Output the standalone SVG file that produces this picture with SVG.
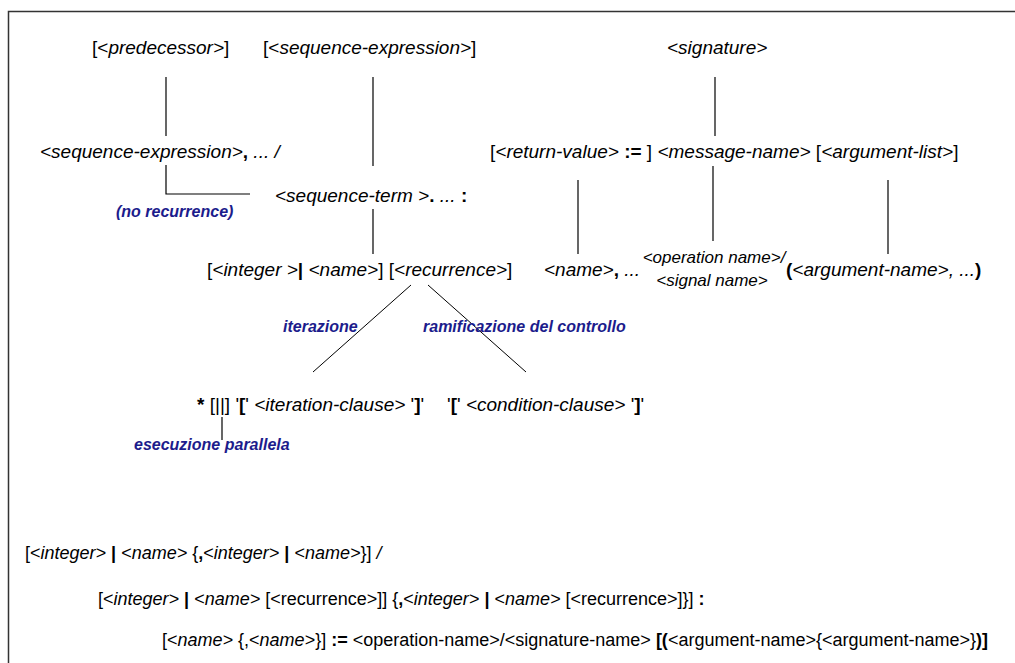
<svg xmlns="http://www.w3.org/2000/svg" width="1015" height="663" viewBox="0 0 1015 663">
  <style>
    text { font-family: "Liberation Sans", Arial, sans-serif; font-size: 19px; fill: #000; }
    .i { font-style: italic; }
    .b { font-weight: bold; }
    .note { font-size: 16px; font-weight: bold; font-style: italic; fill: #1c1c8c; }
    .small { font-size: 17px; }
    .bot { font-size: 18px; }
    .ln { stroke: #000; stroke-width: 1.2; fill: none; }
    .diag { stroke: #000; stroke-width: 1; fill: none; }
  </style>

  <!-- frame -->
  <rect x="8.5" y="11.5" width="1020" height="670" fill="#fff" stroke="#333" stroke-width="1.5"/>

  <!-- connectors -->
  <g id="connectors">
    <line class="ln" x1="166" y1="77" x2="166" y2="136"/>
    <line class="ln" x1="373" y1="77" x2="373" y2="166"/>
    <line class="ln" x1="715" y1="77" x2="715" y2="136"/>
    <polyline class="ln" points="166,165 166,194 250,194"/>
    <line class="ln" x1="373" y1="209" x2="373" y2="254"/>
    <line class="ln" x1="578" y1="180" x2="578" y2="254"/>
    <line class="ln" x1="713" y1="166" x2="713" y2="241"/>
    <line class="ln" x1="888" y1="180" x2="888" y2="254"/>
    <line class="diag" x1="411" y1="285" x2="313" y2="372"/>
    <line class="diag" x1="428" y1="285" x2="526" y2="372"/>
    <line class="ln" x1="222" y1="417" x2="222" y2="440"/>
  </g>

  <!-- top row -->
  <g id="predecessor">
    <text x="92" y="54">[&lt;<tspan class="i">predecessor&gt;</tspan>]</text>
  </g>
  <g id="sequence-expression-opt">
    <text x="263" y="54">[&lt;<tspan class="i">sequence-expression&gt;</tspan>]</text>
  </g>
  <g id="signature">
    <text x="667" y="54" class="i">&lt;signature&gt;</text>
  </g>

  <!-- second row -->
  <g id="sequence-expression-list">
    <text x="40" y="158"><tspan class="i">&lt;sequence-expression&gt;</tspan><tspan class="b">,</tspan><tspan class="i"> ... /</tspan></text>
  </g>
  <g id="message">
    <text x="490" y="158">[<tspan class="i">&lt;return-value&gt;</tspan> <tspan class="b">:=</tspan> ] <tspan class="i">&lt;message-name&gt;</tspan> [<tspan class="i">&lt;argument-list&gt;</tspan>]</text>
  </g>
  <g id="sequence-term">
    <text x="275" y="202"><tspan class="i">&lt;sequence-term &gt;</tspan><tspan class="b">.</tspan><tspan class="i"> ... </tspan><tspan class="b">:</tspan></text>
  </g>
  <g id="no-recurrence">
    <text x="116" y="217" class="note">(no recurrence)</text>
  </g>

  <!-- third row -->
  <g id="term-detail">
    <text x="207" y="276">[<tspan class="i">&lt;integer &gt;</tspan><tspan class="b">|</tspan><tspan class="i"> &lt;name&gt;</tspan>] [<tspan class="i">&lt;recurrence&gt;</tspan>]</text>
  </g>
  <g id="return-names">
    <text x="544" y="276"><tspan class="i">&lt;name&gt;</tspan><tspan class="b">,</tspan><tspan class="i"> ...</tspan></text>
  </g>
  <g id="operation-signal">
    <text x="714" y="263" class="i small" text-anchor="middle">&lt;operation name&gt;/</text>
    <text x="712" y="286" class="i small" text-anchor="middle">&lt;signal name&gt;</text>
  </g>
  <g id="argument-names">
    <text x="786" y="276"><tspan class="b">(</tspan><tspan class="i">&lt;argument-name&gt;, ...</tspan><tspan class="b">)</tspan></text>
  </g>

  <!-- recurrence branches -->
  <g id="iterazione">
    <text x="283" y="332" class="note">iterazione</text>
  </g>
  <g id="ramificazione">
    <text x="423" y="332" class="note">ramificazione del controllo</text>
  </g>
  <g id="iteration-clause">
    <text x="197" y="411"><tspan class="b">*</tspan> [||] '<tspan class="b">[</tspan>' <tspan class="i">&lt;iteration-clause&gt;</tspan> '<tspan class="b">]</tspan>'</text>
  </g>
  <g id="condition-clause">
    <text x="447" y="411">'<tspan class="b">[</tspan>' <tspan class="i">&lt;condition-clause&gt;</tspan> '<tspan class="b">]</tspan>'</text>
  </g>
  <g id="esecuzione-parallela">
    <text x="134" y="450" class="note">esecuzione parallela</text>
  </g>

  <!-- summary syntax -->
  <g id="syntax-predecessor">
    <text x="25" y="559" class="bot">[&lt;<tspan class="i">integer&gt;</tspan> <tspan class="b">|</tspan> &lt;<tspan class="i">name&gt;</tspan> {<tspan class="b">,</tspan>&lt;<tspan class="i">integer&gt;</tspan> <tspan class="b">|</tspan> &lt;<tspan class="i">name&gt;</tspan>}] <tspan class="i">/</tspan></text>
  </g>
  <g id="syntax-sequence">
    <text x="98" y="605" class="bot">[&lt;<tspan class="i">integer&gt;</tspan> <tspan class="b">|</tspan> &lt;<tspan class="i">name&gt;</tspan> [&lt;recurrence&gt;]] {<tspan class="b">,</tspan>&lt;<tspan class="i">integer&gt;</tspan> <tspan class="b">|</tspan> &lt;<tspan class="i">name&gt;</tspan> [&lt;recurrence&gt;]}] <tspan class="b">:</tspan></text>
  </g>
  <g id="syntax-signature">
    <text x="162" y="646" class="bot">[&lt;<tspan class="i">name&gt;</tspan> {,&lt;<tspan class="i">name&gt;</tspan>}] <tspan class="b">:=</tspan> &lt;operation-name&gt;/&lt;signature-name&gt; <tspan class="b">[(</tspan>&lt;argument-name&gt;{&lt;argument-name&gt;}<tspan class="b">)]</tspan></text>
  </g>
</svg>
